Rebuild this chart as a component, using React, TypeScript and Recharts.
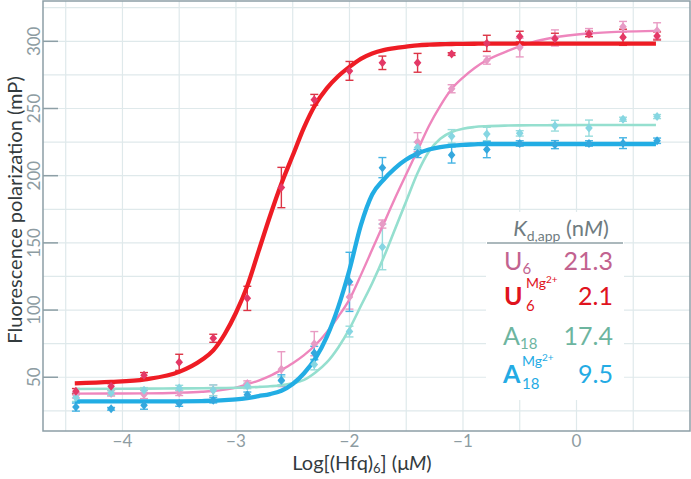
import {
  ComposedChart,
  Line,
  Scatter,
  ErrorBar,
  XAxis,
  YAxis,
  CartesianGrid,
  ReferenceArea,
} from 'recharts';

// Hfq concentrations, log10 µM (two-fold dilution series)
const concLog = [-4.41, -4.1, -3.81, -3.5, -3.2, -2.9, -2.6, -2.31, -2.0, -1.71, -1.4, -1.1, -0.79, -0.5, -0.19, 0.11, 0.41, 0.71];

// measured polarization (mP) and error
const u6 = [36.5, 38, 37.1, 38.4, 40.3, 45.3, 56, 75, 109.7, 164, 225, 264.7, 286, 295.4, 302.5, 306.5, 310.8, 307.8];
const u6Err = [2, 2, 3, 2, 4, 2, 13, 9, 9, 3, 7, 3, 3, 7, 6, 3, 4, 6];
const u6Mg = [39.6, 43.3, 51.5, 61.1, 79, 108.7, 191.2, 256.5, 278, 284, 284, 290.5, 298.5, 303.5, 302, 305.5, 303, 304];
const u6MgErr = [2, 2, 2, 6, 3, 9, 15, 4, 7, 5, 7, 1, 6, 4, 4, 2, 6, 3];
const a18 = [35, 38.5, 40.3, 42, 40.3, 43.5, 47.3, 59.5, 84, 147, 221, 229.3, 231, 231.5, 237.2, 235.4, 242, 244];
const a18Err = [3, 2, 2, 2, 4, 2, 3, 4, 4, 17, 4, 5, 5, 2, 4, 6, 1.5, 1.5];
const a18Mg = [27.8, 26.5, 29.2, 30.4, 32.9, 37, 47.8, 68, 121, 206, 216.5, 215.4, 219.4, 224, 223.1, 224, 224.2, 226];
const a18MgErr = [3, 1, 3, 2, 2, 2, 4, 5, 22, 7.5, 3, 6, 6, 2, 3, 2, 4, 2];

// fitted curves
const fitX = [-4.42, -4.1, -3.8, -3.5, -3.3, -3.2, -3.1, -3.0, -2.9, -2.8, -2.7, -2.6, -2.5, -2.4, -2.3, -2.2, -2.1, -2.0, -1.9, -1.8, -1.7, -1.6, -1.5, -1.4, -1.3, -1.2, -1.1, -1.0, -0.9, -0.8, -0.6, -0.4, -0.2, 0.1, 0.4, 0.7];
const u6Fit = [37.8, 37.9, 38, 38.5, 39.2, 39.8, 40.8, 42.3, 44.8, 47.5, 51, 55.5, 60.5, 66.5, 74, 83.5, 95, 108, 126, 145, 164, 183, 201, 219, 237, 252, 264.5, 273, 280, 285.5, 293, 299, 302.8, 305.8, 307.2, 307.8];
const u6MgFit = [45.5, 46.5, 48.5, 54, 63, 70, 82, 98, 118, 144, 170, 194, 215, 236, 253, 265, 274, 281, 287, 291, 293.5, 295, 296, 297, 297.5, 297.8, 298, 298.1, 298.2, 298.3, 298.3, 298.3, 298.3, 298.3, 298.3, 298.3];
const a18Fit = [41.3, 41.4, 41.5, 41.7, 41.8, 41.9, 42, 42.2, 42.4, 42.8, 43.3, 44, 45.5, 48, 53.5, 61, 72, 86, 103, 120, 139, 160, 181, 202, 218, 227.5, 232.5, 235, 236.2, 236.8, 237.3, 237.5, 237.6, 237.7, 237.7, 237.7];
const a18MgFit = [32, 32, 32, 32.1, 32.3, 32.5, 33, 33.5, 34.5, 36, 37.5, 40, 45, 53, 64, 80, 102, 130, 163, 186, 197, 205.5, 212, 216.5, 219.5, 221.3, 222.4, 223, 223.3, 223.6, 223.6, 223.6, 223.6, 223.6, 223.6, 223.6];

const xTicks = [-4, -3, -2, -1, 0];
const yTicks = [50, 100, 150, 200, 250, 300];
const xGrid = [-4.5, -4, -3.5, -3, -2.5, -2, -1.5, -1, -0.5, 0, 0.5];
const yGrid = [25, 50, 75, 100, 125, 150, 175, 200, 225, 250, 275, 300, 325];

const points = (ys: number[], errs: number[]) => concLog.map((x, i) => ({ x, y: ys[i], err: errs[i] }));
const curve = (ys: number[]) => fitX.map((x, i) => ({ x, y: ys[i] }));

const FONT = 'Lato, "Open Sans", sans-serif';
const AXIS_GRAY = '#8d9fa6';

const diamond = (color: string) => (props: any) => {
  const { cx, cy } = props;
  if (cx == null || cy == null) return <g />;
  return (
    <path
      d={`M${cx},${cy - 4.5}L${cx + 3.8},${cy}L${cx},${cy + 4.5}L${cx - 3.8},${cy}Z`}
      fill={color}
    />
  );
};

const YTick = ({ y, payload }: any) => (
  <g>
    <line x1={43} x2={58} y1={y} y2={y} stroke={AXIS_GRAY} strokeWidth={1.5} />
    <text
      transform={`translate(33,${y}) rotate(-90)`}
      textAnchor="middle"
      dominantBaseline="central"
      fontSize={17}
      fontFamily={FONT}
      fill="#8d9ca2"
    >
      {payload.value}
    </text>
  </g>
);

const XTick = ({ x, payload }: any) => (
  <text x={x} y={447} textAnchor="middle" fontSize={17} fontFamily={FONT} fill="#8d9ca2">
    {String(payload.value).replace('-', '\u2212')}
  </text>
);

const series = [
  { key: 'u6', pts: points(u6, u6Err), fit: curve(u6Fit), line: '#ee86bd', dot: '#e79bc5', bar: '#e99bc3', width: 2.4 },
  { key: 'a18', pts: points(a18, a18Err), fit: curve(a18Fit), line: '#95dfcf', dot: '#86d6e2', bar: '#98dcdc', width: 2.6 },
  { key: 'a18Mg', pts: points(a18Mg, a18MgErr), fit: curve(a18MgFit), line: '#22ade4', dot: '#34a8de', bar: '#45b4e4', width: 4.3 },
  { key: 'u6Mg', pts: points(u6Mg, u6MgErr), fit: curve(u6MgFit), line: '#ee1c24', dot: '#e43866', bar: '#dc3445', width: 4.3 },
];

export default function App() {
  return (
    <div style={{ position: 'absolute', left: 0, top: 0, width: 691, height: 479, background: '#fff' }}>
      <ComposedChart width={691} height={479} margin={{ top: 1, right: 1, left: 0, bottom: 0 }}>
        <CartesianGrid
          stroke="#dfe9eb"
          strokeWidth={1.2}
          horizontalValues={yGrid}
          verticalValues={xGrid}
        />
        <XAxis
          type="number"
          dataKey="x"
          domain={[-4.7, 1.0]}
          ticks={xTicks}
          allowDataOverflow
          axisLine={false}
          tickLine={false}
          height={48}
          tick={<XTick />}
        />
        <YAxis
          type="number"
          dataKey="y"
          domain={[10, 330]}
          ticks={yTicks}
          allowDataOverflow
          axisLine={false}
          tickLine={false}
          width={43}
          tick={<YTick />}
        />
        <ReferenceArea
          x1={-4.7}
          x2={1.0}
          y1={10}
          y2={330}
          fill="none"
          stroke={AXIS_GRAY}
          strokeWidth={1.5}
          ifOverflow="visible"
        />
        {series.map((s) => (
          <Scatter
            key={s.key + 'pts'}
            data={s.pts}
            dataKey="y"
            shape={diamond(s.dot)}
            isAnimationActive={false}
          >
            <ErrorBar dataKey="err" direction="y" width={4} stroke={s.bar} strokeWidth={1.4} />
          </Scatter>
        ))}
        {series.map((s) => (
          <Line
            key={s.key + 'fit'}
            data={s.fit}
            dataKey="y"
            type="monotone"
            stroke={s.line}
            strokeWidth={s.width}
            dot={false}
            activeDot={false}
            isAnimationActive={false}
          />
        ))}
      </ComposedChart>

      <svg
        width={691}
        height={479}
        style={{ position: 'absolute', left: 0, top: 0, pointerEvents: 'none' }}
        fontFamily={FONT}
      >
        <text
          transform="translate(14,210) rotate(-90)"
          textAnchor="middle"
          dominantBaseline="central"
          fontSize={20}
          fill="#333b3e"
        >
          Fluorescence polarization (mP)
        </text>
        <text x={362} y={470} textAnchor="middle" fontSize={20} fill="#333b3e">
          Log[(Hfq)
          <tspan fontSize={13} dy={3}>6</tspan>
          <tspan dy={-3}>] (μ</tspan>
          <tspan fontStyle="italic">M</tspan>)
        </text>

        <rect x={486} y={212} width={138} height={188} fill="#fff" />
        <text x={561} y={236} textAnchor="middle" fontSize={22} fill="#6f7c81">
          <tspan fontStyle="italic">K</tspan>
          <tspan fontSize={14} dy={5}>d,app</tspan>
          <tspan dy={-5}> (n</tspan>
          <tspan fontStyle="italic">M</tspan>)
        </text>
        <line x1={487} x2={623} y1={243} y2={243} stroke="#8fa0a6" strokeWidth={1.5} />

        <g fontSize={25}>
          <text x={504} y={270} fill="#c2638f">
            U<tspan fontSize={15} dy={4}>6</tspan>
          </text>
          <text x={613} y={270} textAnchor="end" fill="#c2638f">21.3</text>

          <text x={504} y={305} fill="#e0131d" fontWeight="bold">U</text>
          <text x={526} y={288} fill="#e0131d" fontSize={14}>
            Mg<tspan fontSize={10} dy={-5}>2+</tspan>
          </text>
          <text x={526} y={311} fill="#e0131d" fontSize={15}>6</text>
          <text x={613} y={305} textAnchor="end" fill="#e0131d">2.1</text>

          <text x={503} y={345} fill="#6db59f">
            A<tspan fontSize={15} dy={4}>18</tspan>
          </text>
          <text x={613} y={345} textAnchor="end" fill="#6db59f">17.4</text>

          <text x={503} y={383} fill="#24abe4" fontWeight="bold">A</text>
          <text x={522} y={366} fill="#24abe4" fontSize={14}>
            Mg<tspan fontSize={10} dy={-5}>2+</tspan>
          </text>
          <text x={522} y={389} fill="#24abe4" fontSize={15}>18</text>
          <text x={613} y={383} textAnchor="end" fill="#24abe4">9.5</text>
        </g>
      </svg>
    </div>
  );
}
